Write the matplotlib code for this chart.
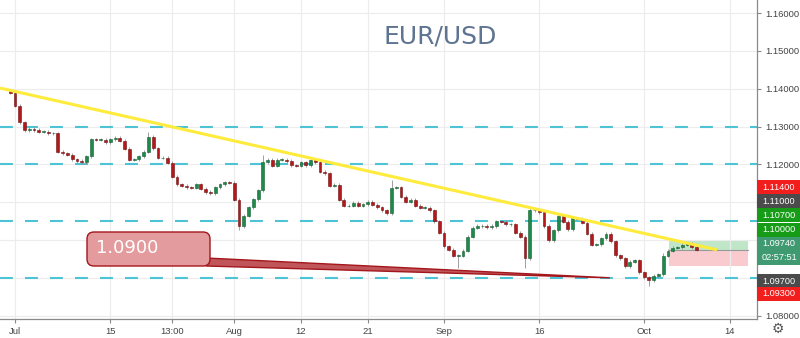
import numpy as np
import matplotlib.pyplot as plt
from matplotlib.patches import Rectangle, FancyBboxPatch, Polygon
import matplotlib.transforms as mtransforms

W, H = 800, 338

# EUR/USD 12h closes, late Jun 28 .. Oct 8 (weekends skipped)
closes = [
    1.1389, 1.1355, 1.1312, 1.1291, 1.1294, 1.1291, 1.1286, 1.1286, 1.1283, 1.1283,
    1.1233, 1.1230, 1.1225, 1.1214, 1.1209, 1.1206, 1.1222, 1.1267, 1.1265, 1.1265,
    1.1259, 1.1267, 1.1270, 1.1262, 1.1241, 1.1212, 1.1214, 1.1222, 1.1233, 1.1273,
    1.1243, 1.1217, 1.1217, 1.1204, 1.1167, 1.1148, 1.1143, 1.1140, 1.1138, 1.1148,
    1.1135, 1.1127, 1.1124, 1.1140, 1.1148, 1.1153, 1.1151, 1.1106, 1.1037, 1.1064,
    1.1087, 1.1108, 1.1132, 1.1206, 1.1212, 1.1196, 1.1212, 1.1212, 1.1209, 1.1198,
    1.1196, 1.1206, 1.1198, 1.1212, 1.1206, 1.1180, 1.1177, 1.1143, 1.1146, 1.1106,
    1.1090, 1.1090, 1.1098, 1.1090, 1.1095, 1.1101, 1.1093, 1.1087, 1.1079, 1.1071,
    1.1138, 1.1140, 1.1114, 1.1101, 1.1106, 1.1090, 1.1085, 1.1085, 1.1079, 1.1050,
    1.1019, 1.0984, 1.0974, 1.0958, 1.0958, 1.0971, 1.1008, 1.1032, 1.1037, 1.1037,
    1.1034, 1.1037, 1.1050, 1.1048, 1.1042, 1.1042, 1.1019, 1.1008, 1.0952, 1.1079,
    1.1079, 1.1074, 1.1037, 1.1000, 1.1026, 1.1064, 1.1048, 1.1029, 1.1058, 1.1056,
    1.1045, 1.1016, 1.0987, 1.0989, 1.1005, 1.1016, 1.0997, 1.0960, 1.0952, 1.0931,
    1.0942, 1.0947, 1.0915, 1.0902, 1.0894, 1.0905, 1.0910, 1.0958, 1.0971, 1.0979,
    1.0981, 1.0987, 1.0992, 1.0981, 1.0974,
]
first_open = 1.1395
# wick extremes that stick out past the bodies
high_spikes = {29: 1.1285, 53: 1.1225, 80: 1.1160, 109: 1.1090, 137: 1.0966}
low_spikes = {48: 1.1027, 94: 1.0926, 108: 1.0927, 134: 1.0879}
wick = 0.0004

tick_days = [0, 10, 16.5, 23, 30, 37, 45, 55, 66, 75]
tick_labels = ['Jul', '15', '13:00', 'Aug', '12', '21', 'Sep', '16', 'Oct', '14']
price_ticks = [1.08, 1.09, 1.10, 1.11, 1.12, 1.13, 1.14, 1.15, 1.16]
# these scale labels sit under the tags on the right
hidden_ticks = [1.09, 1.10, 1.11]

levels = [1.13, 1.12, 1.105, 1.09]
trend_days = [-1.57, 73.64]
trend_prices = [1.1402, 1.0974]
callout_price = 1.0900
callout_day = 62.4
entry, target, stop = 1.0974, 1.1000, 1.0930
box_days = [68.6, 76.9]

tags = ['1.11400', '1.11000', '1.10700', '1.10000', '1.09740', '02:57:51', '1.09700', '1.09300']
tag_colors = ['#f21d1d', '#4b4b4b', '#169c16', '#169c16', '#3f9a72', '#3f9a72', '#4b4b4b', '#f21d1d']

plt.rcParams['font.family'] = ['Liberation Sans', 'DejaVu Sans']

fig = plt.figure(figsize=(W / 100, H / 100), dpi=100)
ax = fig.add_axes([0, 19 / H, 757 / W, 319 / H])
ax.set_xlim(-1.5735, 77.84)
ax.set_ylim(1.0791, 1.16349)

ax.set_xticks(tick_days)
ax.set_xticklabels(tick_labels)
ax.set_yticks(price_ticks)
ax.set_yticklabels(['' if any(abs(p - q) < 1e-9 for q in hidden_ticks) else f'{p:.5f}'
                    for p in price_ticks])
ax.yaxis.tick_right()
ax.tick_params(axis='both', length=3, color='#8a8a8a', labelcolor='#444444',
               labelsize=6.8, pad=3)
ax.grid(True, color='#ececec', lw=0.8, zorder=0)
for s in ['left', 'top']:
    ax.spines[s].set_visible(False)
for s in ['right', 'bottom']:
    ax.spines[s].set_color('#8a8a8a')
    ax.spines[s].set_linewidth(0.9)

# candles
c = np.array(closes)
o = np.concatenate([[first_open], c[:-1]])
t = np.arange(len(c)) * 0.5 - 0.5
hi = np.maximum(o, c) + wick
lo = np.minimum(o, c) - wick
for i, v in high_spikes.items():
    hi[i] = v
for i, v in low_spikes.items():
    lo[i] = v
up = c >= o
ax.vlines(t, lo, hi, color='#8f8f8f', lw=0.6, zorder=3)
body = np.maximum(np.abs(c - o), 0.00012)
ax.bar(t[up], body[up], bottom=np.minimum(o, c)[up], width=0.3,
       color='#1e8a4a', edgecolor='#145c31', lw=0.4, zorder=4)
ax.bar(t[~up], body[~up], bottom=np.minimum(o, c)[~up], width=0.3,
       color='#b5181b', edgecolor='#6e0f10', lw=0.4, zorder=4)

# horizontal levels
for lv in levels:
    ax.axhline(lv, color='#4ec3d6', lw=1.5, ls=(0, (6.2, 5.8)), zorder=2)

# trend line
ax.plot(trend_days, trend_prices, color='#ffeb3b', lw=2.2, zorder=5,
        solid_capstyle='butt')

# long position box
ax.add_patch(Rectangle((box_days[0], entry), box_days[1] - box_days[0], target - entry,
                       facecolor='#bfe6c6', edgecolor='none', zorder=1.5))
ax.add_patch(Rectangle((box_days[0], stop), box_days[1] - box_days[0], entry - stop,
                       facecolor='#f9cbcf', edgecolor='none', zorder=1.5))
ax.plot(box_days, [entry, entry], color='#9a9a9a', lw=0.8, zorder=1.6)

# callout pointing at 1.0900
ident = mtransforms.IdentityTransform()
tip = ax.transData.transform((callout_day, callout_price))
bx0, bx1 = 87, 210
by0, by1 = H - 266, H - 232
ax.add_patch(Polygon([(bx1 - 4, H - 258), tip, (bx1 - 4, H - 266)], closed=True,
                     facecolor='#c0555a', edgecolor='#a3161b', lw=1.0,
                     transform=ident, zorder=6))
ax.add_patch(FancyBboxPatch((bx0, by0), bx1 - bx0, by1 - by0,
                            boxstyle='round,pad=0,rounding_size=7',
                            facecolor='#e39b9d', edgecolor='#a3161b', lw=1.0,
                            transform=ident, zorder=7))
ax.text(96, (by0 + by1) / 2 + 1, f'{callout_price:.4f}', transform=ident,
        color='white', fontsize=13, va='center', ha='left', zorder=8,
        family='DejaVu Sans')

ax.text(440 / 757, 1 - 37 / 319, 'EUR/USD', transform=ax.transAxes, ha='center',
        va='center', fontsize=18, color='#5f7490', family='DejaVu Sans')

# price scale tags
tag_y = [187, 201, 215, 230, 244, 258, 281, 294]
for txt, col, yc in zip(tags, tag_colors, tag_y):
    fig.patches.append(Rectangle((757 / W, (H - yc - 7) / H), 43 / W, 14 / H,
                                 transform=fig.transFigure, facecolor=col,
                                 edgecolor='none', zorder=5))
    fig.text(779 / W, (H - yc) / H, txt, color='white', ha='center', va='center',
             fontsize=6.6, zorder=6)

fig.text(778 / W, (H - 329) / H, '\u2699', color='#555555', fontsize=10,
         ha='center', va='center', family='DejaVu Sans')

fig.savefig('out.png', dpi=100)
